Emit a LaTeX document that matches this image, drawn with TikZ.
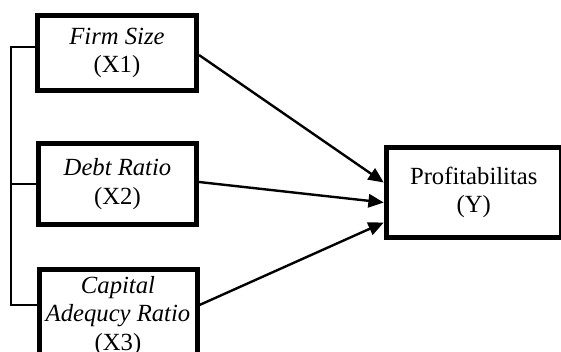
\documentclass[tikz,border=0pt]{standalone}
\usepackage{fontspec}
\setmainfont{Liberation Serif}
\usetikzlibrary{arrows.meta,calc}
\begin{document}
\begin{tikzpicture}[x=0.75pt,y=-0.75pt,
  box/.style={draw=black,line width=3.75pt,fill=white,align=center,inner sep=0pt,
    font=\fontsize{18.5}{21.5}\selectfont},
  conn/.style={line width=1.8pt,-{Triangle[length=11.5pt,width=10pt]}},
  brk/.style={line width=0.9pt}]
\clip (0,0) rectangle (561,351);
\fill[white] (0,0) rectangle (561,351);
\node[box,minimum width=119.25pt,minimum height=56.25pt] (b1) at (117,53) {\textit{Firm Size}\\(X1)};
\node[box,minimum width=118.5pt,minimum height=60.75pt] (b2) at (117.5,184) {\textit{Debt Ratio}\\(X2)};
\node[box,minimum width=118.5pt,minimum height=69.75pt] (b3) at (118,316) {\textit{Capital}\\\textit{Adequcy Ratio}\\(X3)};
\node[box,minimum width=131.25pt,minimum height=67.5pt] (y) at (473.75,192.5) {Profitabilitas\\(Y)};
\draw[conn] ($(b1.east)+(0,2)$) -- ($(y.west)+(0,-10)$);
\draw[conn] ($(b2.east)+(0,-2)$) -- ($(y.west)+(0,10)$);
\draw[conn] ($(b3.east)+(0,-11)$) -- ($(y.west)+(0,30)$);
\draw[brk] ($(b1.west)+(0,-6)$) -- ++(-24,0) coordinate (bt) |- ($(b3.west)+(0,-11)$);
\draw[brk] (b2.west) -- (b2.west -| bt);
\end{tikzpicture}
\end{document}
